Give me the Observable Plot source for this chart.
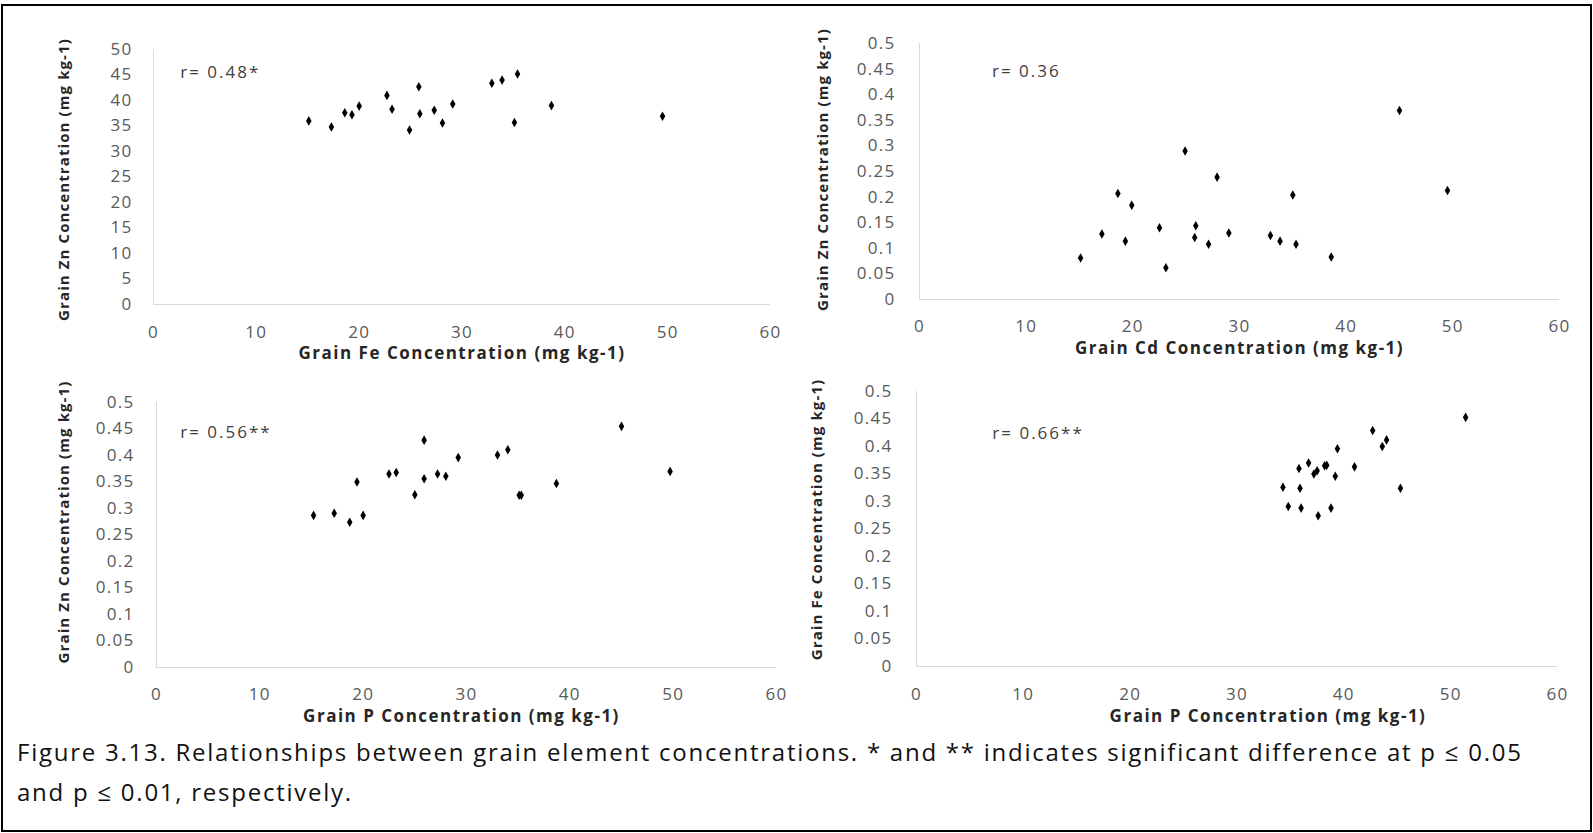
<!DOCTYPE html>
<html><head><meta charset="utf-8">
<script src="https://cdn.jsdelivr.net/npm/d3@7"></script>
<script src="https://cdn.jsdelivr.net/npm/@observablehq/plot@0.6"></script>
<style>
body{margin:0;background:#fff;}
#root{position:relative;width:1593px;height:833px;overflow:hidden;font-family:"Open Sans",sans-serif;background:#fff;}
.panel{position:absolute;}
#frame{position:absolute;left:1px;top:4px;width:1591px;height:828px;border:2px solid #000;box-sizing:border-box;pointer-events:none;}
#caption{position:absolute;left:17px;top:732px;font-size:24px;line-height:40px;letter-spacing:1.75px;color:#111;white-space:nowrap;}
svg g[aria-label="x-axis tick label"] text, svg g[aria-label="y-axis tick label"] text{letter-spacing:1.3px;}
svg .rlab text{letter-spacing:2px;}
svg .xlab text{letter-spacing:1.5px;}
svg .ylab text{letter-spacing:1.1px;}
</style>
</head><body>
<div id="root">
  <div id="p1" class="panel" style="left:0;top:0"></div>
  <div id="p2" class="panel" style="left:790px;top:0"></div>
  <div id="p3" class="panel" style="left:0;top:370px"></div>
  <div id="p4" class="panel" style="left:790px;top:370px"></div>
  <div id="caption">Figure 3.13. Relationships between grain element concentrations. * and ** indicates significant difference at p ≤ 0.05<br>and p ≤ 0.01, respectively.</div>
  <div id="frame"></div>
</div>
<script>
// ---- Data ----
// Panel 1: Grain Fe (x) vs Grain Zn (y)
const p1Fe = [15.1, 17.3, 18.6, 19.3, 20.0, 22.7, 23.2, 24.9, 25.8, 25.9, 27.3, 28.1, 29.1, 32.9, 33.9, 35.4, 35.1, 38.7, 49.5];
const p1Zn = [36.0, 34.8, 37.6, 37.2, 38.9, 41.0, 38.3, 34.2, 42.7, 37.4, 38.1, 35.6, 39.3, 43.4, 44.0, 45.2, 35.7, 39.0, 36.9];
// Panel 2: Grain Cd (x) vs Grain Zn (y)
const p2Cd = [15.1, 17.1, 18.6, 19.3, 19.9, 22.5, 23.1, 24.9, 25.8, 25.9, 27.1, 27.9, 29.0, 32.9, 33.8, 35.0, 35.3, 38.6, 45.0, 49.5];
const p2Zn = [0.081, 0.128, 0.207, 0.114, 0.184, 0.140, 0.062, 0.290, 0.121, 0.144, 0.108, 0.239, 0.130, 0.125, 0.114, 0.204, 0.108, 0.083, 0.369, 0.213];
// Panel 3: Grain P (x) vs Grain Zn (y)
const p3P  = [15.2, 17.2, 18.7, 19.4, 20.0, 22.5, 23.2, 25.0, 25.9, 25.9, 27.2, 28.0, 29.2, 33.0, 34.0, 35.1, 35.3, 38.7, 45.0, 49.7];
const p3Zn = [0.287, 0.291, 0.274, 0.350, 0.287, 0.365, 0.368, 0.326, 0.429, 0.356, 0.365, 0.361, 0.396, 0.401, 0.411, 0.325, 0.325, 0.347, 0.455, 0.370];
// Panel 4: Grain P (x) vs Grain Fe (y)
const p4P  = [34.3, 34.8, 35.8, 35.9, 36.0, 36.7, 37.2, 37.5, 37.6, 38.2, 38.4, 38.8, 39.2, 39.4, 41.0, 42.7, 43.6, 44.0, 45.3, 51.4];
const p4Fe = [0.326, 0.291, 0.360, 0.324, 0.288, 0.370, 0.350, 0.356, 0.274, 0.365, 0.366, 0.288, 0.346, 0.396, 0.363, 0.429, 0.400, 0.412, 0.324, 0.453];

const xTicks = [0, 10, 20, 30, 40, 50, 60];
const yTicksZn = [0, 5, 10, 15, 20, 25, 30, 35, 40, 45, 50];
const yTicksSmall = [0, 0.05, 0.1, 0.15, 0.2, 0.25, 0.3, 0.35, 0.4, 0.45, 0.5];

const xLabels = ["Grain Fe Concentration (mg kg-1)", "Grain Cd Concentration (mg kg-1)", "Grain P Concentration (mg kg-1)", "Grain P Concentration (mg kg-1)"];
const yLabels = ["Grain Zn Concentration (mg kg-1)", "Grain Zn Concentration (mg kg-1)", "Grain Zn Concentration (mg kg-1)", "Grain Fe Concentration (mg kg-1)"];
const rLabels = ["r= 0.48*", "r= 0.36", "r= 0.56**", "r= 0.66**"];
// r-label anchor positions in data units
const rX = [2.6, 6.8, 2.3, 7.1];
const rY = [45.5, 0.445, 0.443, 0.424];

function panel(sel, o) {
  const data = o.xs.map((x, i) => ({x, y: o.ys[i]}));
  const chart = Plot.plot({
    width: o.width, height: o.height,
    marginLeft: o.ml, marginRight: o.mr, marginTop: o.mt, marginBottom: o.mb,
    style: {fontFamily: "'Open Sans', sans-serif", fontSize: "17px", color: "#595959", background: "transparent", overflow: "visible"},
    x: {domain: [0, 60], ticks: xTicks, tickSize: 0, tickPadding: o.xpad, label: null},
    y: {domain: o.yDomain, ticks: o.yTicks, tickSize: 0, tickPadding: o.ypad, label: null, tickFormat: d => String(d)},
    marks: [
      Plot.ruleY([0], {stroke: "#d9d9d9", strokeWidth: 1}),
      Plot.ruleX([0], {stroke: "#d9d9d9", strokeWidth: 1}),
      Plot.dot(data, {x: "x", y: "y", symbol: "diamond", r: 2.9, fill: "#000", stroke: null}),
      Plot.text([o.r], {x: o.rx, y: o.ry, text: d => d, textAnchor: "start", fill: "#404040", fontSize: 17, className: "rlab"}),
      Plot.text([o.xLabel], {frameAnchor: "bottom", dx: o.xlabDx || 0, dy: o.xlab, text: d => d, fill: "#262626", fontWeight: "bold", fontSize: 17, className: "xlab"}),
      Plot.text([o.yLabel], {frameAnchor: "left", textAnchor: "middle", dx: -o.ylab, dy: o.ylabDy || 0, rotate: -90, text: d => d, fill: "#262626", fontWeight: "bold", fontSize: 15, className: "ylab"})
    ]
  });
  document.querySelector(sel).append(chart);
}

panel("#p1", {width: 790, height: 370, ml: 153, mr: 20, mt: 49, mb: 66, xpad: 21, ypad: 21, xlab: 54, ylab: 89, ylabDy: 2.5,
  xs: p1Fe, ys: p1Zn, yDomain: [0, 50], yTicks: yTicksZn, xLabel: xLabels[0], yLabel: yLabels[0], r: rLabels[0], rx: rX[0], ry: rY[0]});
panel("#p2", {width: 803, height: 370, ml: 129, mr: 34, mt: 43, mb: 71, xpad: 20, ypad: 24, xlab: 54, ylab: 96, ylabDy: -2,
  xs: p2Cd, ys: p2Zn, yDomain: [0, 0.5], yTicks: yTicksSmall, xLabel: xLabels[1], yLabel: yLabels[1], r: rLabels[1], rx: rX[1], ry: rY[1]});
panel("#p3", {width: 790, height: 360, ml: 156, mr: 14, mt: 32, mb: 63, xpad: 20, ypad: 22, xlab: 54, xlabDx: -5, ylab: 92, ylabDy: -13,
  xs: p3P, ys: p3Zn, yDomain: [0, 0.5], yTicks: yTicksSmall, xLabel: xLabels[2], yLabel: yLabels[2], r: rLabels[2], rx: rX[2], ry: rY[2]});
panel("#p4", {width: 803, height: 360, ml: 126, mr: 36, mt: 21, mb: 64, xpad: 21, ypad: 24, xlab: 55, xlabDx: 31, ylab: 99, ylabDy: -9.5,
  xs: p4P, ys: p4Fe, yDomain: [0, 0.5], yTicks: yTicksSmall, xLabel: xLabels[3], yLabel: yLabels[3], r: rLabels[3], rx: rX[3], ry: rY[3]});
</script>
</body></html>
